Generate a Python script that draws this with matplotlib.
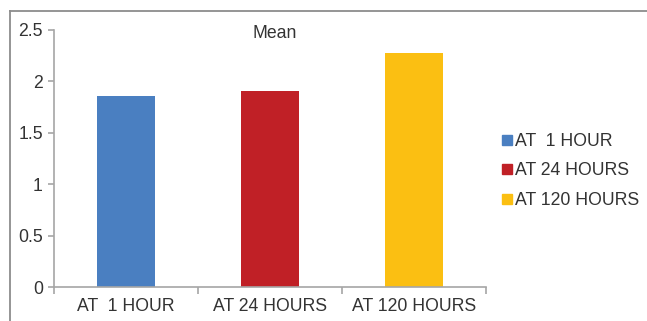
import matplotlib
matplotlib.use("Agg")
import matplotlib.pyplot as plt
from matplotlib.lines import Line2D

plt.rcParams['font.family'] = ['Liberation Sans', 'DejaVu Sans']

categories = ["AT  1 HOUR", "AT 24 HOURS", "AT 120 HOURS"]
means = [1.86, 1.91, 2.28]
colors = ["#4a7fc1", "#c02026", "#fbbf12"]
yticks = [0, 0.5, 1, 1.5, 2, 2.5]
ytick_labels = ["0", "0.5", "1", "1.5", "2", "2.5"]

W, H = 647, 321
FS = 12.7
fig = plt.figure(figsize=(W / 100, H / 100), dpi=100)

# outer chart frame: left and top edges
frame_col = "#8c8c8c"
fig.add_artist(Line2D([9.5 / W, 9.5 / W], [0, 1 - 10.5 / H], transform=fig.transFigure,
                      color=frame_col, linewidth=1.3, solid_capstyle="projecting"))
fig.add_artist(Line2D([9.5 / W, 1.0], [1 - 10.5 / H, 1 - 10.5 / H], transform=fig.transFigure,
                      color=frame_col, linewidth=1.3, solid_capstyle="projecting"))

ax = fig.add_axes([54 / W, 1 - 287 / H, (486 - 54) / W, (287 - 30) / H])
x = range(len(categories))
ax.bar(x, means, width=0.40, color=colors)

ax.set_xlim(-0.5, 2.5)
ax.set_ylim(0, 2.5)
ax.set_yticks(yticks)
ax.set_yticklabels(ytick_labels)
ax.set_xticks(list(x))
ax.set_xticklabels(categories)
ax.set_xticks([-0.5, 0.5, 1.5, 2.5], minor=True)

axis_col = "#a6a6a6"
text_col = "#333333"
for s in ["top", "right"]:
    ax.spines[s].set_visible(False)
for s in ["left", "bottom"]:
    ax.spines[s].set_color(axis_col)
    ax.spines[s].set_linewidth(1.2)

ax.tick_params(axis="y", direction="out", length=4, width=1.2, color=axis_col,
               labelsize=FS, labelcolor=text_col, pad=4)
ax.tick_params(axis="x", which="major", length=0, labelsize=FS,
               labelcolor=text_col, pad=8)
ax.tick_params(axis="x", which="minor", direction="out", length=5, width=1.2,
               color=axis_col)

fig.text(275 / W, 1 - 34 / H, "Mean", ha="center", va="center",
         fontsize=FS, color=text_col)

handles = [Line2D([], [], linestyle="none", marker="s", markersize=7,
                  markerfacecolor=c, markeredgecolor=c) for c in colors]
fig.legend(handles, categories, loc="center left",
           bbox_to_anchor=(500 / W, 1 - 171 / H), frameon=False,
           fontsize=FS, labelcolor=text_col, handlelength=0.75,
           handletextpad=0.1, labelspacing=0.72, borderpad=0, borderaxespad=0)

fig.savefig("out.png", dpi=100)
